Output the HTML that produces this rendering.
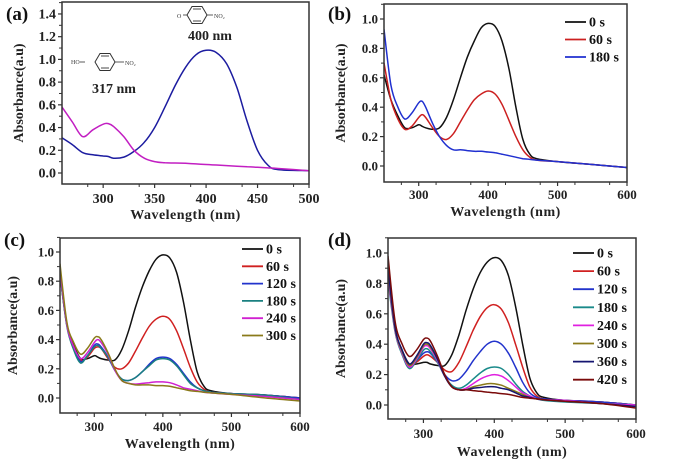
<!DOCTYPE html>
<html><head><meta charset="utf-8"><style>
html,body{margin:0;padding:0;background:#fff;}
svg{display:block;font-family:"Liberation Serif",serif;font-weight:bold;}
</style></head><body>
<svg id="fig" width="678" height="460" viewBox="0 0 678 460"></svg>
<script>
const NS="http://www.w3.org/2000/svg";
const svg=document.getElementById('fig');
// ---- data ----
const waveA=[260,270,280,290,300,305,310,320,330,340,350,360,370,380,390,400,410,420,430,440,450,460,470,500];
const aPhenolate=[0.31,0.25,0.18,0.16,0.15,0.145,0.13,0.14,0.19,0.27,0.4,0.58,0.77,0.93,1.04,1.08,1.06,0.96,0.75,0.45,0.2,0.07,0.03,0.02];
const aPhenol=[0.58,0.45,0.32,0.38,0.43,0.435,0.41,0.32,0.2,0.13,0.1,0.09,0.088,0.085,0.08,0.075,0.07,0.065,0.06,0.055,0.05,0.045,0.04,0.02];
const waveB=[250,260,270,280,290,300,305,310,320,330,340,350,360,370,380,390,400,410,420,430,440,450,460,470,500,550,600];
const b0=[0.62,0.45,0.34,0.26,0.26,0.28,0.27,0.26,0.25,0.26,0.33,0.45,0.6,0.74,0.85,0.94,0.97,0.95,0.85,0.66,0.4,0.18,0.08,0.05,0.03,0.01,-0.01];
const b60=[0.7,0.45,0.32,0.25,0.27,0.33,0.35,0.33,0.26,0.2,0.18,0.22,0.3,0.38,0.45,0.49,0.51,0.49,0.42,0.31,0.2,0.11,0.06,0.04,0.03,0.01,-0.01];
const b180=[0.93,0.55,0.4,0.32,0.36,0.43,0.44,0.4,0.29,0.2,0.14,0.11,0.11,0.105,0.1,0.1,0.095,0.09,0.08,0.07,0.06,0.05,0.045,0.04,0.03,0.01,-0.01];
const c0=[0.85,0.5,0.36,0.27,0.27,0.29,0.28,0.27,0.26,0.26,0.33,0.46,0.62,0.76,0.87,0.95,0.98,0.96,0.86,0.66,0.4,0.18,0.08,0.05,0.03,0.02,0.0];
const c60=[0.85,0.5,0.35,0.26,0.28,0.34,0.35,0.34,0.27,0.21,0.2,0.24,0.32,0.41,0.49,0.54,0.56,0.54,0.46,0.34,0.21,0.11,0.06,0.04,0.03,0.02,0.0];
const c120=[0.88,0.5,0.34,0.25,0.29,0.36,0.37,0.35,0.28,0.19,0.13,0.12,0.14,0.18,0.23,0.27,0.28,0.27,0.23,0.17,0.11,0.07,0.05,0.04,0.03,0.02,0.0];
const c180=[0.85,0.49,0.33,0.24,0.29,0.35,0.36,0.34,0.28,0.19,0.13,0.12,0.14,0.18,0.22,0.26,0.27,0.26,0.22,0.16,0.1,0.07,0.05,0.04,0.03,0.02,-0.01];
const c240=[0.88,0.5,0.35,0.27,0.31,0.38,0.4,0.38,0.3,0.19,0.12,0.1,0.095,0.1,0.105,0.11,0.11,0.105,0.09,0.07,0.06,0.05,0.04,0.035,0.025,0.01,-0.01];
const c300=[0.92,0.52,0.38,0.3,0.34,0.41,0.42,0.4,0.31,0.2,0.12,0.1,0.09,0.09,0.09,0.085,0.085,0.08,0.07,0.06,0.05,0.045,0.04,0.035,0.025,0.0,-0.02];
const d0=[0.85,0.5,0.36,0.27,0.27,0.28,0.28,0.27,0.26,0.26,0.33,0.46,0.62,0.76,0.87,0.94,0.97,0.95,0.85,0.65,0.4,0.18,0.08,0.05,0.03,0.02,0.0];
const d60=[0.85,0.5,0.35,0.26,0.28,0.32,0.33,0.32,0.28,0.23,0.22,0.28,0.38,0.49,0.58,0.64,0.66,0.63,0.54,0.4,0.25,0.12,0.06,0.04,0.03,0.02,0.0];
const d120=[0.85,0.49,0.34,0.25,0.29,0.34,0.35,0.34,0.28,0.2,0.16,0.17,0.22,0.29,0.35,0.4,0.42,0.4,0.34,0.25,0.15,0.08,0.05,0.04,0.03,0.02,0.0];
const d180=[0.82,0.48,0.33,0.24,0.29,0.36,0.37,0.35,0.28,0.19,0.13,0.11,0.13,0.17,0.21,0.24,0.25,0.24,0.2,0.14,0.09,0.06,0.04,0.03,0.02,0.01,0.0];
const d240=[0.85,0.49,0.34,0.25,0.3,0.38,0.39,0.37,0.29,0.19,0.12,0.1,0.11,0.14,0.17,0.19,0.2,0.19,0.16,0.12,0.08,0.06,0.04,0.035,0.03,0.01,0.0];
const d300=[0.88,0.5,0.35,0.26,0.31,0.39,0.4,0.38,0.3,0.19,0.12,0.1,0.1,0.12,0.13,0.14,0.14,0.13,0.11,0.09,0.07,0.05,0.04,0.035,0.025,0.01,-0.01];
const d360=[0.9,0.51,0.36,0.27,0.32,0.4,0.41,0.39,0.3,0.19,0.12,0.1,0.1,0.11,0.115,0.12,0.12,0.11,0.1,0.08,0.06,0.05,0.04,0.035,0.025,0.01,-0.01];
const d420=[0.98,0.55,0.4,0.32,0.36,0.43,0.44,0.42,0.32,0.2,0.12,0.1,0.1,0.095,0.09,0.085,0.08,0.075,0.07,0.06,0.05,0.045,0.04,0.035,0.025,0.01,-0.02];
const xTicksA=[300,350,400,450,500];
const yTicksA=[0,0.2,0.4,0.6,0.8,1.0,1.2,1.4];
const xTicksB=[300,400,500,600];
const yTicksB=[0,0.2,0.4,0.6,0.8,1.0];

function el(tag,attrs,parent){const e=document.createElementNS(NS,tag);for(const k in attrs)e.setAttribute(k,attrs[k]);(parent||svg).appendChild(e);return e;}
function smooth(pts){let d='M'+pts[0][0].toFixed(1)+','+pts[0][1].toFixed(1);
  for(let i=0;i<pts.length-1;i++){const p0=pts[Math.max(0,i-1)],p1=pts[i],p2=pts[i+1],p3=pts[Math.min(pts.length-1,i+2)];
    const c1=[p1[0]+(p2[0]-p0[0])/6,p1[1]+(p2[1]-p0[1])/6],c2=[p2[0]-(p3[0]-p1[0])/6,p2[1]-(p3[1]-p1[1])/6];
    d+='C'+c1[0].toFixed(1)+','+c1[1].toFixed(1)+' '+c2[0].toFixed(1)+','+c2[1].toFixed(1)+' '+p2[0].toFixed(1)+','+p2[1].toFixed(1);}
  return d;}

function panel(cfg){
  const g=el('g',{});
  
  
  const fs=cfg.fs||13;
  const sx=v=>cfg.x0+(v-cfg.xmin)/(cfg.xmax-cfg.xmin)*(cfg.x1-cfg.x0);
  const sy=v=>cfg.yz-v*cfg.k;
  const clipId='clip'+cfg.id;
  const cp=el('clipPath',{id:clipId},g);el('rect',{x:cfg.x0,y:cfg.y0,width:cfg.x1-cfg.x0,height:cfg.y1-cfg.y0},cp);
  const sg=el('g',{'clip-path':'url(#'+clipId+')'},g);
  cfg.series.forEach(s=>{
    const pts=cfg.wave.map((w,i)=>[sx(w),sy(s.v[i])]);
    const p=el('path',{d:smooth(pts),fill:'none',stroke:s.c,'stroke-width':1.5},sg);
    
    
  });
  const fr=el('rect',{x:cfg.x0,y:cfg.y0,width:cfg.x1-cfg.x0,height:cfg.y1-cfg.y0,fill:'none',stroke:'#333','stroke-width':1.5},g);
  
  
  cfg.xt.forEach(v=>{const x=sx(v);el('line',{x1:x,x2:x,y1:cfg.y1,y2:cfg.y1+4,stroke:'#333','stroke-width':1.2},g);
    const t=el('text',{x:x,y:cfg.ly,'text-anchor':'middle','font-size':fs,fill:'#222'},g);t.textContent=v;
    
    });
  for(let v=cfg.xmin+cfg.minor;v<cfg.xmax;v+=cfg.minor*2){const x=sx(v);el('line',{x1:x,x2:x,y1:cfg.y1,y2:cfg.y1+3,stroke:'#333','stroke-width':1},g);}
  cfg.yt.forEach(v=>{const y=sy(v);el('line',{x1:cfg.x0-4,x2:cfg.x0,y1:y,y2:y,stroke:'#333','stroke-width':1.2},g);
    el('line',{x1:cfg.x0-3,x2:cfg.x0,y1:y-cfg.k*0.1,y2:y-cfg.k*0.1,stroke:'#333','stroke-width':1},g);
    const t=el('text',{x:cfg.x0-6,y:y+4.5,'text-anchor':'end','font-size':fs,fill:'#222'},g);t.textContent=v.toFixed(1);
    
    });
  const xt=el('text',{x:(cfg.x0+cfg.x1)/2,y:cfg.ty,'text-anchor':'middle','font-size':14,'letter-spacing':0.5,fill:'#222'},g);xt.textContent='Wavelength (nm)';
  
  
  const yc=(cfg.y0+cfg.y1)/2;
  const yt=el('text',{x:cfg.ylx,y:yc,'text-anchor':'middle','font-size':14,fill:'#222',transform:'rotate(-90 '+cfg.ylx+' '+yc+')'},g);yt.textContent='Absorbance(a.u)';
  
  
  const pl=el('text',{x:cfg.plx,y:cfg.ply,'font-size':19,fill:'#111'},g);pl.textContent='('+cfg.id+')';
  
  
  if(cfg.leg){cfg.series.forEach((s,i)=>{const y=cfg.leg.y+i*cfg.leg.dy;
    const lg=el('g',{},g);
    
    
    el('line',{x1:cfg.leg.x,x2:cfg.leg.x+21,y1:y,y2:y,stroke:s.c,'stroke-width':1.8},lg);
    const t=el('text',{x:cfg.leg.x+24,y:y+4.5,'font-size':14,fill:'#111'},lg);t.textContent=s.n;});}
  return g;
}
panel({id:'a',x0:62,x1:309,y0:2,y1:184,xmin:260,xmax:500,yz:173,k:113.6,minor:25,wave:waveA,fs:14,
  series:[{n:'phenolate',v:aPhenolate,c:'#1c1ca0'},{n:'phenol',v:aPhenol,c:'#c21fc2'}],
  xt:xTicksA,yt:yTicksA,ly:203,ty:219,ylx:23,plx:6,ply:20});
panel({id:'b',x0:384,x1:627,y0:4,y1:182,xmin:250,xmax:600,yz:166,k:147,minor:25,wave:waveB,
  series:[{n:'0 s',v:b0,c:'#111'},{n:'60 s',v:b60,c:'#cc2020'},{n:'180 s',v:b180,c:'#2030d0'}],
  xt:xTicksB,yt:yTicksB,ly:199,ty:216,ylx:345,plx:328,ply:20,leg:{x:565,y:22,dy:17.5}});
panel({id:'c',x0:60,x1:300,y0:238,y1:413,xmin:250,xmax:600,yz:398,k:146,minor:25,wave:waveB,
  series:[{n:'0 s',v:c0,c:'#111'},{n:'60 s',v:c60,c:'#d02020'},{n:'120 s',v:c120,c:'#2233cc'},{n:'180 s',v:c180,c:'#1a8080'},{n:'240 s',v:c240,c:'#d020d0'},{n:'300 s',v:c300,c:'#8a7a1a'}],
  xt:xTicksB,yt:yTicksB,ly:431,ty:448,ylx:17,plx:4,ply:246,leg:{x:242,y:249,dy:17.3}});
panel({id:'d',x0:388,x1:636,y0:238,y1:419,xmin:250,xmax:600,yz:405,k:152,minor:25,wave:waveB,
  series:[{n:'0 s',v:d0,c:'#111'},{n:'60 s',v:d60,c:'#d02020'},{n:'120 s',v:d120,c:'#2233cc'},{n:'180 s',v:d180,c:'#1a8a8a'},{n:'240 s',v:d240,c:'#e020e0'},{n:'300 s',v:d300,c:'#8a7a1a'},{n:'360 s',v:d360,c:'#151570'},{n:'420 s',v:d420,c:'#7a0a0a'}],
  xt:xTicksB,yt:yTicksB,ly:438,ty:456,ylx:345,plx:328,ply:246,leg:{x:573,y:253,dy:18.1}});
// annotations for panel a
function ring(cx,cy,g){
  const r=10,h=8.5;
  el('polygon',{points:(cx-r)+','+cy+' '+(cx-r/2)+','+(cy-h)+' '+(cx+r/2)+','+(cy-h)+' '+(cx+r)+','+cy+' '+(cx+r/2)+','+(cy+h)+' '+(cx-r/2)+','+(cy+h),fill:'none',stroke:'#333','stroke-width':1},g);
  el('line',{x1:cx-4,y1:cy-6,x2:cx+4,y2:cy-6,stroke:'#333','stroke-width':0.9},g);
  el('line',{x1:cx-4,y1:cy+6,x2:cx+4,y2:cy+6,stroke:'#333','stroke-width':0.9},g);}
const m1=el('g',{});


el('text',{x:177,y:18,'font-size':6,'font-weight':'normal',fill:'#333'},m1).textContent='O';
el('line',{x1:183,y1:15,x2:187,y2:15,stroke:'#333','stroke-width':0.8},m1);
ring(197,15,m1);el('line',{x1:207,y1:15,x2:213,y2:15,stroke:'#333','stroke-width':0.8},m1);
el('text',{x:214,y:18,'font-size':6,'font-weight':'normal',fill:'#333'},m1).textContent='NO₂';
const t1=el('text',{x:188,y:40,'font-size':14,fill:'#222'},m1);t1.textContent='400 nm';
const m2=el('g',{});


el('text',{x:71,y:64,'font-size':6,'font-weight':'normal',fill:'#333'},m2).textContent='HO';
el('line',{x1:80,y1:62,x2:85,y2:62,stroke:'#333','stroke-width':0.8},m2);
ring(105,62,m2);el('line',{x1:115,y1:62,x2:124,y2:62,stroke:'#333','stroke-width':0.8},m2);
el('text',{x:125,y:65,'font-size':6,'font-weight':'normal',fill:'#333'},m2).textContent='NO₂';
const t2=el('text',{x:92,y:93,'font-size':14,fill:'#222'},m2);t2.textContent='317 nm';
</script>
</body></html>
